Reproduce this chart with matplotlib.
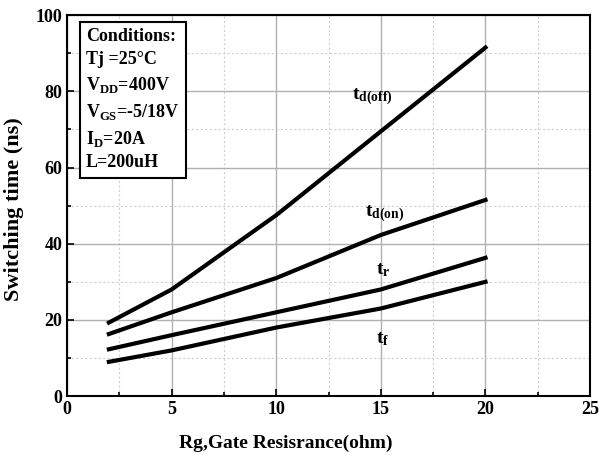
import matplotlib
matplotlib.use("Agg")
import matplotlib.pyplot as plt
from matplotlib.ticker import MultipleLocator

# Data
rg = [2, 5, 10, 15, 20]
td_off = [19.3, 28, 47.5, 69.5, 91.5]
td_on = [16.3, 22, 31, 42.3, 51.5]
t_r = [12.3, 16, 22, 28, 36.3]
t_f = [9, 12, 18, 23, 30]

plt.rcParams['font.family'] = ['Liberation Serif', 'DejaVu Serif']
plt.rcParams['font.weight'] = 'bold'
plt.rcParams['mathtext.fontset'] = 'custom'
plt.rcParams['mathtext.rm'] = 'Liberation Serif:bold'
plt.rcParams['mathtext.bf'] = 'Liberation Serif:bold'

fig = plt.figure(figsize=(6.04, 4.59), dpi=100)
ax = fig.add_axes([0.111, 0.137, 0.866, 0.83])

for s in [td_off, td_on, t_r, t_f]:
    ax.plot(rg, s, color='black', lw=3)

ax.set_xlim(0, 25)
ax.set_ylim(0, 100)
ax.xaxis.set_major_locator(MultipleLocator(5))
ax.xaxis.set_minor_locator(MultipleLocator(2.5))
ax.yaxis.set_major_locator(MultipleLocator(20))
ax.yaxis.set_minor_locator(MultipleLocator(10))
ax.grid(which='major', color='#b0b0b0', lw=1, ls='-')
ax.grid(which='minor', color='#d0d0d0', lw=0.8, ls=(0, (2, 2)))
ax.set_axisbelow(True)
ax.tick_params(which='both', direction='in', labelsize=13, width=1.2)
ax.tick_params(which='major', length=5)
ax.tick_params(which='minor', length=3)
for sp in ax.spines.values():
    sp.set_linewidth(1.5)
for lab in ax.get_xticklabels() + ax.get_yticklabels():
    lab.set_fontweight('bold')

ax.set_xlabel('Rg,Gate Resisrance(ohm)', fontsize=14, fontweight='bold')
ax.set_ylabel('Switching time (ns)', fontsize=16, fontweight='bold')
ax.xaxis.set_label_coords(0.419, -0.1)
ax.yaxis.set_label_coords(-0.082, 0.49)

ax.text(14.6, 78.5, r'$\mathrm{t_{d(off)}}$', fontsize=14, ha='center', va='center')
ax.text(15.2, 48, r'$\mathrm{t_{d(on)}}$', fontsize=14, ha='center', va='center')
ax.text(15.1, 33, r'$\mathrm{t_r}$', fontsize=14, ha='center', va='center')
ax.text(15.1, 15, r'$\mathrm{t_f}$', fontsize=14, ha='center', va='center')

cond = ('Conditions:\n'
        r'Tj =25°C' '\n'
        r'V$_\mathrm{DD}$=400V' '\n'
        r'V$_\mathrm{GS}$=-5/18V' '\n'
        r'I$_\mathrm{D}$=20A' '\n'
        'L=200uH')
ax.text(0.9, 96.5, cond, fontsize=13, fontweight='bold', ha='left', va='top',
        linespacing=1.45,
        bbox=dict(boxstyle='square,pad=0.35', fc='white', ec='black', lw=1.5))

fig.savefig('out.png', dpi=100)
